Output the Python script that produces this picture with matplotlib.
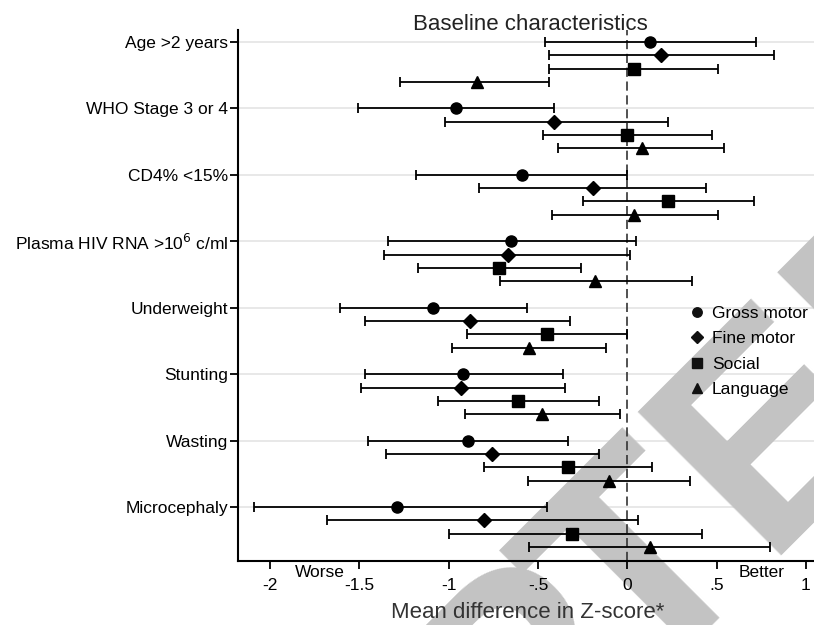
import matplotlib
matplotlib.use("Agg")
import matplotlib.pyplot as plt
from matplotlib.lines import Line2D
import numpy as np

plt.rcParams['font.family'] = ['Liberation Sans', 'DejaVu Sans']

# Baseline characteristics (top to bottom)
labels = ["Age >2 years", "WHO Stage 3 or 4", "CD4% <15%",
          r"Plasma HIV RNA >10$^6$ c/ml", "Underweight", "Stunting",
          "Wasting", "Microcephaly"]

# mean difference and 95% CI per domain
gross = [0.125, -0.96, -0.59, -0.65, -1.09, -0.92, -0.89, -1.29]
gross_lo = [-0.46, -1.51, -1.18, -1.34, -1.61, -1.47, -1.45, -2.09]
gross_hi = [0.72, -0.41, 0.00, 0.05, -0.56, -0.36, -0.33, -0.45]

fine = [0.19, -0.41, -0.19, -0.67, -0.88, -0.93, -0.76, -0.80]
fine_lo = [-0.44, -1.02, -0.83, -1.36, -1.47, -1.49, -1.35, -1.68]
fine_hi = [0.82, 0.23, 0.44, 0.015, -0.32, -0.35, -0.16, 0.06]

social = [0.04, 0.00, 0.23, -0.72, -0.45, -0.61, -0.33, -0.31]
social_lo = [-0.44, -0.47, -0.25, -1.17, -0.90, -1.06, -0.80, -1.00]
social_hi = [0.51, 0.475, 0.71, -0.26, 0.00, -0.16, 0.14, 0.42]

lang = [-0.84, 0.08, 0.04, -0.18, -0.55, -0.475, -0.10, 0.125]
lang_lo = [-1.27, -0.39, -0.42, -0.71, -0.98, -0.91, -0.555, -0.55]
lang_hi = [-0.44, 0.54, 0.51, 0.36, -0.12, -0.04, 0.35, 0.80]

series = [
    ("Gross motor", gross, gross_lo, gross_hi, "o", 8),
    ("Fine motor", fine, fine_lo, fine_hi, "D", 7.5),
    ("Social", social, social_lo, social_hi, "s", 8),
    ("Language", lang, lang_lo, lang_hi, "^", 8.5),
]

xticks = [-2, -1.5, -1, -0.5, 0, 0.5, 1]
xticklabels = ["-2", "-1.5", "-1", "-.5", "0", ".5", "1"]

fig = plt.figure(figsize=(8.14, 6.25), dpi=100)
ax = fig.add_axes([238 / 814, 1 - 561 / 625, 576 / 814, 531 / 625])

centers = np.arange(len(labels)) * 5
for c in centers:
    ax.axhline(c, color="#e6e6e6", lw=1.3, zorder=0)

ax.axvline(0, color="#333333", lw=1.2, ls=(0, (5.5, 2.8)), zorder=1.5)

for j, (name, m, lo, hi, mk, ms) in enumerate(series):
    m = np.array(m)
    err = [m - np.array(lo), np.array(hi) - m]
    ax.errorbar(m, centers + j, xerr=err, fmt=mk, ms=ms, color="black",
                ecolor="black", elinewidth=1.3, capsize=3.6, capthick=1.3,
                zorder=3)

ax.set_xlim(-2.179, 1.045)
ax.set_ylim(39.05, -0.9)
ax.set_yticks(centers)
ax.set_yticklabels(labels, fontsize=12.5)
ax.set_xticks(xticks)
ax.set_xticklabels(xticklabels, fontsize=12.5)
ax.tick_params(axis="y", length=6, width=1.3, pad=1)
ax.tick_params(axis="x", length=6, width=1.3, pad=6.5)

for s in ["top", "right"]:
    ax.spines[s].set_visible(False)
for s in ["left", "bottom"]:
    ax.spines[s].set_linewidth(1.5)

# title and axis label placed in figure pixels
fig.text(530 / 814, 1 - 30 / 625, "Baseline characteristics", fontsize=16,
         color="#222222", ha="center", va="baseline")
fig.text(528 / 814, 1 - 618 / 625, "Mean difference in Z-score*", fontsize=16,
         color="#333333", ha="center", va="baseline")

ax.text(-1.72, -0.022, "Worse", transform=ax.get_xaxis_transform(),
        ha="center", va="center", fontsize=12.5)
ax.text(0.754, -0.022, "Better", transform=ax.get_xaxis_transform(),
        ha="center", va="center", fontsize=12.5)

handles = [Line2D([], [], marker=mk, ls="none", color="#111111",
                  ms=ms * 0.85) for (_, _, _, _, mk, ms) in series]
ax.legend(handles, [s[0] for s in series], loc="upper left",
          bbox_to_anchor=(690 / 814, 1 - 306 / 625),
          bbox_transform=fig.transFigure, frameon=False, fontsize=12.5,
          borderpad=0, borderaxespad=0, handlelength=0.8,
          handletextpad=0.45, labelspacing=0.58)

# watermark
wm = dict(transform=fig.transFigure, rotation=45, rotation_mode="anchor",
          fontsize=213, fontweight="bold", color="#c3c3c3", va="baseline",
          zorder=0.5, clip_on=False)
ax.text(660 / 814, 1 - 673 / 625, "ACCEP", ha="right", **wm)
ax.text(639 / 814, 1 - 694 / 625, "TED", ha="left", **wm)

fig.savefig("out.png", dpi=100)
